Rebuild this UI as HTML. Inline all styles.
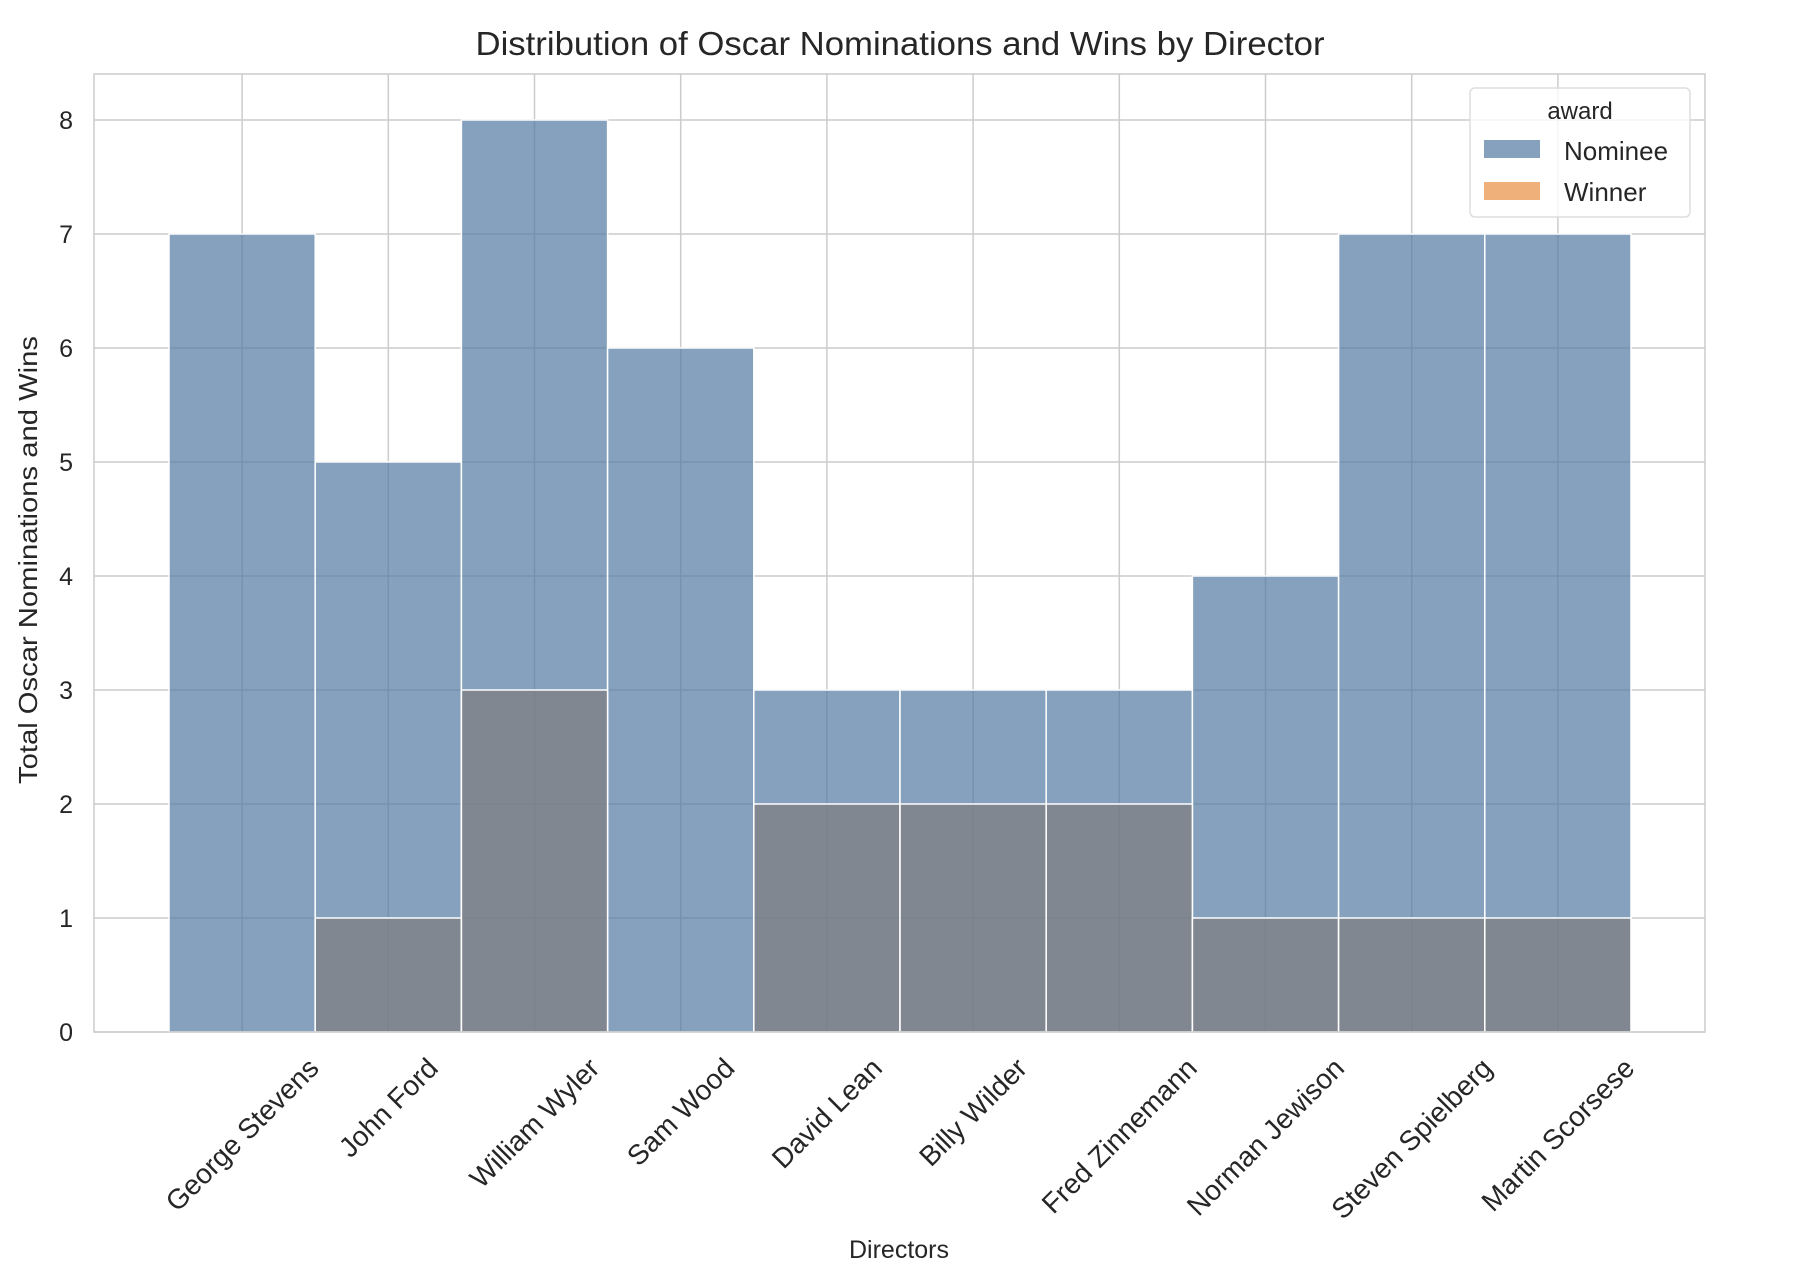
<!DOCTYPE html>
<html><head><meta charset="utf-8"><style>
html,body{margin:0;padding:0;background:#fff;}
svg{display:block;font-family:"Liberation Sans",Arial,sans-serif;}
</style></head><body>
<svg id="chart" width="1800" height="1286" viewBox="0 0 1800 1286">
<g id="grid"></g>
<g id="bars"></g>
<rect x="94" y="74" width="1611" height="958" fill="none" stroke="#cccccc" stroke-width="1.5"/>
<g id="yticks"></g>
<g id="xticks"></g>
<text x="900" y="55" text-anchor="middle" font-size="33" fill="#262626" textLength="849" lengthAdjust="spacingAndGlyphs">Distribution of Oscar Nominations and Wins by Director</text>
<text x="0" y="0" transform="translate(37,560) rotate(-90)" text-anchor="middle" font-size="26" fill="#262626" textLength="448" lengthAdjust="spacingAndGlyphs">Total Oscar Nominations and Wins</text>
<text x="899" y="1258" text-anchor="middle" font-size="25" fill="#262626">Directors</text>
<g>
<rect x="1470" y="88" width="220" height="129" rx="5" fill="#ffffff" fill-opacity="0.8" stroke="#dddddd" stroke-width="1.5"/>
<text x="1580" y="119" text-anchor="middle" font-size="24" fill="#262626">award</text>
<rect x="1484" y="140" width="56" height="18" fill="#86a1be"/>
<text x="1564" y="160" font-size="26" fill="#262626">Nominee</text>
<rect x="1484" y="182" width="56" height="18" fill="#f0b07a"/>
<text x="1564" y="201" font-size="26" fill="#262626">Winner</text>
</g>
</svg>
<script>
const directors = ["George Stevens","John Ford","William Wyler","Sam Wood","David Lean","Billy Wilder","Fred Zinnemann","Norman Jewison","Steven Spielberg","Martin Scorsese"];
const nominees = [7,5,8,6,3,3,3,4,7,7];
const winners = [0,1,3,0,2,2,2,1,1,1];
const yTicks = [0,1,2,3,4,5,6,7,8];

const NS="http://www.w3.org/2000/svg";
const X0=169, BW=146.2, Y0=1032, UNIT=114;
function xLeft(i){return X0+i*BW;}
function xCenter(i){return X0+(i+0.5)*BW;}
function yPos(v){return Y0-v*UNIT;}
function mk(tag,attrs,parent){const e=document.createElementNS(NS,tag);for(const k in attrs)e.setAttribute(k,attrs[k]);parent.appendChild(e);return e;}

const grid=document.getElementById('grid');
yTicks.forEach(t=>{
  const l=mk('line',{x1:94,x2:1705,y1:yPos(t),y2:yPos(t),stroke:'#cccccc','stroke-width':1.5},grid);
  
  
});
directors.forEach((d,i)=>{
  const l=mk('line',{x1:xCenter(i),x2:xCenter(i),y1:74,y2:1032,stroke:'#cccccc','stroke-width':1.5},grid);
  
  
});

const bars=document.getElementById('bars');
directors.forEach((d,i)=>{
  const r=mk('rect',{x:xLeft(i),y:yPos(nominees[i]),width:BW,height:nominees[i]*UNIT,fill:'#5279a2','fill-opacity':0.7,stroke:'#ffffff','stroke-width':1.5},bars);
  
  
});
directors.forEach((d,i)=>{
  if(winners[i]<=0)return;
  const r=mk('rect',{x:xLeft(i),y:yPos(winners[i]),width:BW,height:winners[i]*UNIT,fill:'#7e7c7e','fill-opacity':0.7,stroke:'#ffffff','stroke-width':1.5},bars);
  
  
});

const yt=document.getElementById('yticks');
yTicks.forEach(t=>{
  const e=mk('text',{x:73,y:yPos(t)+9,'text-anchor':'end','font-size':25,fill:'#262626'},yt);
  e.textContent=t;
  
  
});

const xt=document.getElementById('xticks');
directors.forEach((d,i)=>{
  const e=mk('text',{'text-anchor':'middle','dominant-baseline':'central','font-size':28,fill:'#262626'},xt);
  e.textContent=d;
  
  
  const L=e.getComputedTextLength();
  const cy=1054+(L+26)*0.7071/2;
  e.setAttribute('transform','translate('+xCenter(i)+','+cy+') rotate(-45)');
});
</script>
</body></html>
